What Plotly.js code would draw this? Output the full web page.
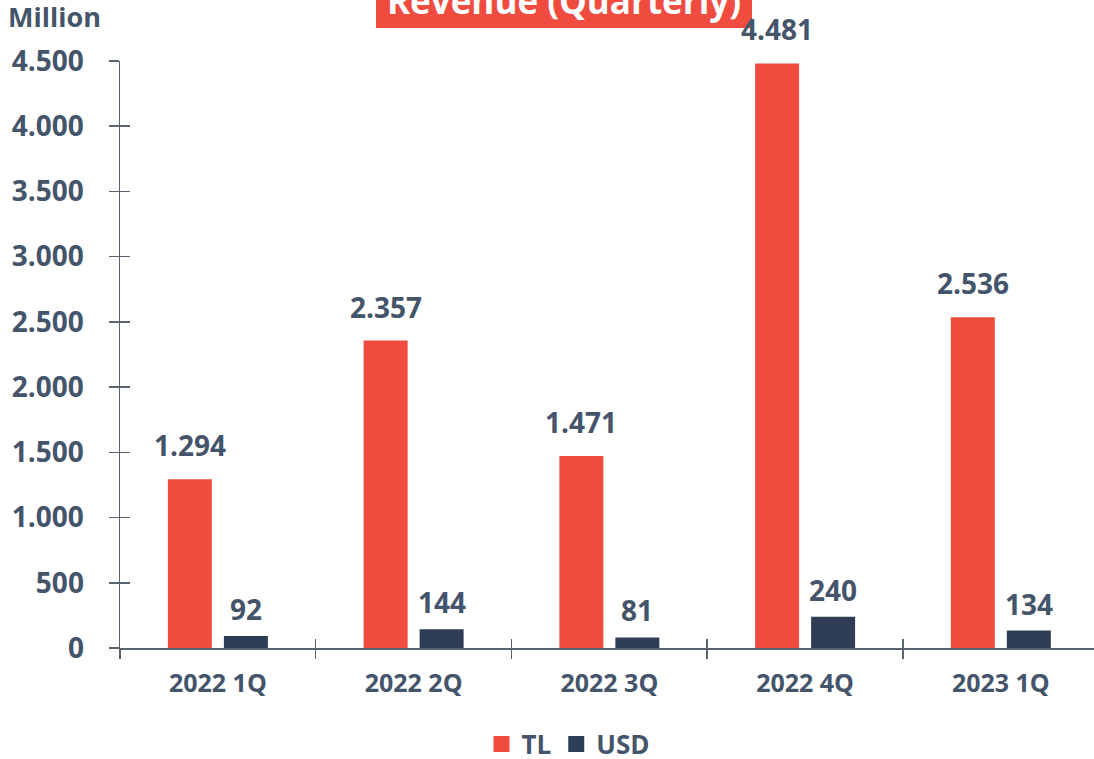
<!DOCTYPE html>
<html>
<head>
<meta charset="utf-8">
<script src="https://cdn.plot.ly/plotly-3.0.1.min.js"></script>
<style>html,body{margin:0;padding:0;background:#fff;}#chart{width:1094px;height:759px;}</style>
</head>
<body>
<div id="chart"></div>
<script>
const categories = ["2022 1Q", "2022 2Q", "2022 3Q", "2022 4Q", "2023 1Q"];
const tlValues = [1294, 2357, 1471, 4481, 2536];
const usdValues = [92, 144, 81, 240, 134];
const seriesNames = ["TL", "USD"];
const titleText = "Revenue (Quarterly)";
const unitLabel = "Million";

const RED = "#EF4B3F";
const NAVY = "#2F3E56";
const TXT = "#44546A";
const AX = "#5B6370";
const FONT = "Open Sans";

function fmt(v){ return v.toString().replace(/\B(?=(\d{3})+(?!\d))/g, "."); }

const barW = 0.2248;
const traces = [
  {type:"bar", name:seriesNames[0], x:categories, y:tlValues, width:barW, offset:-0.2554,
   marker:{color:RED}, hoverinfo:"none", showlegend:false},
  {type:"bar", name:seriesNames[1], x:categories, y:usdValues, width:barW, offset:0.0307,
   marker:{color:NAVY}, hoverinfo:"none", showlegend:false},
  {type:"scatter", mode:"markers", name:seriesNames[0], x:[null], y:[null],
   marker:{symbol:"square", size:18, color:RED}, hoverinfo:"none"},
  {type:"scatter", mode:"markers", name:seriesNames[1], x:[null], y:[null],
   marker:{symbol:"square", size:18, color:NAVY}, hoverinfo:"none"},
  {type:"scatter", x:[], y:[], xaxis:"x2", yaxis:"y2", showlegend:false, hoverinfo:"none"}
];

const annotations = [];
categories.forEach((c,i)=>{
  annotations.push({x:c, y:tlValues[i], xref:"x", yref:"y", text:fmt(tlValues[i]), showarrow:false,
    xshift:-28, yshift:13, yanchor:"bottom", xanchor:"center",
    font:{family:FONT, size:28, color:TXT, weight:"bold"}});
  annotations.push({x:c, y:usdValues[i], xref:"x", yref:"y", text:fmt(usdValues[i]), showarrow:false,
    xshift:28, yshift:6, yanchor:"bottom", xanchor:"center",
    font:{family:FONT, size:28, color:TXT, weight:"bold"}});
});
annotations.push({xref:"paper", yref:"paper", x:(6-120)/974, y:(648-17)/587, xanchor:"left", yanchor:"middle",
  text:unitLabel, showarrow:false, font:{family:FONT, size:27, color:TXT, weight:"bold"}});
annotations.push({xref:"paper", yref:"paper", x:(564-120)/974, y:(648-1)/587, xanchor:"center", yanchor:"middle",
  text:titleText, showarrow:false, font:{family:FONT, size:35, color:"#FFFFFF", weight:"bold"}});

const layout = {
  width:1094, height:759,
  margin:{l:120, r:0, t:61, b:111, pad:0, autoexpand:false},
  paper_bgcolor:"#fff", plot_bgcolor:"#fff",
  separators:",.",
  barmode:"overlay",
  showlegend:true,
  legend:{orientation:"h", xref:"container", yref:"container", x:568/1094, xanchor:"center",
    y:(759-744)/759, yanchor:"middle", itemsizing:"trace",
    font:{family:FONT, size:26, color:TXT, weight:"bold"}, traceorder:"normal", itemwidth:30},
  xaxis:{type:"category", range:[-0.5, 4.476], showgrid:false, zeroline:false,
    showline:true, linecolor:AX, linewidth:1.5, automargin:false,
    ticks:"outside", tickson:"boundaries", ticklen:9, tickwidth:1.5, tickcolor:AX,
    tickfont:{family:FONT, size:25, color:TXT, weight:"bold"}, ticklabelstandoff:12, fixedrange:true},
  xaxis2:{overlaying:"x", range:[-0.5, 4.476], showgrid:false, zeroline:false, showline:false,
    tickvals:[-0.5,0.5,1.5,2.5,3.5,4.5], ticks:"inside", ticklen:9, tickwidth:1.5, tickcolor:AX,
    showticklabels:false, anchor:"y", side:"bottom"},
  yaxis:{range:[0,4500], dtick:500, tickformat:",d", showgrid:false, zeroline:false,
    showline:true, linecolor:AX, linewidth:1.5, automargin:false,
    ticks:"outside", ticklen:10, tickwidth:1.5, tickcolor:AX,
    tickfont:{family:FONT, size:28, color:TXT, weight:"bold"}, ticklabelstandoff:19},
  yaxis2:{overlaying:"y", range:[0,4500], dtick:500, showgrid:false, zeroline:false, showline:false,
    ticks:"inside", ticklen:10, tickwidth:1.5, tickcolor:AX, showticklabels:false, anchor:"x", side:"left"},
  shapes:[
    {type:"rect", xref:"paper", yref:"paper", x0:(376-120)/974, x1:(752-120)/974,
     y0:(648-28)/587, y1:(648+20)/587, fillcolor:RED, line:{width:0}, layer:"below"}
  ],
  annotations:annotations
};

Plotly.newPlot("chart", traces, layout, {displayModeBar:false, staticPlot:true});
</script>
</body>
</html>
